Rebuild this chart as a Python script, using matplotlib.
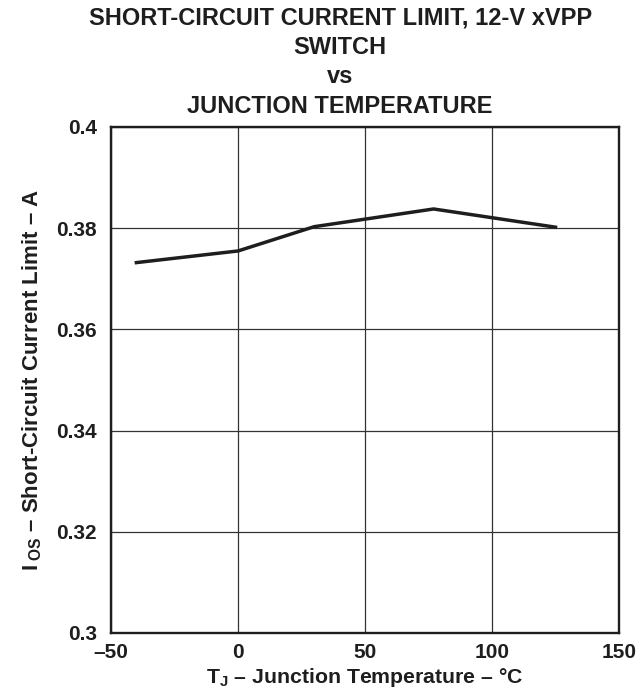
import numpy as np
import matplotlib
matplotlib.use("Agg")
import matplotlib.pyplot as plt

plt.rcParams['font.family'] = ['Liberation Sans', 'DejaVu Sans']
plt.rcParams['font.weight'] = 'bold'
plt.rcParams['mathtext.fontset'] = 'custom'
plt.rcParams['mathtext.rm'] = 'Liberation Sans:bold'
plt.rcParams['mathtext.default'] = 'rm'

# data
temp_c = [-40, 0, 30, 77, 125]
ios_a = [0.3732, 0.3755, 0.3803, 0.3838, 0.3802]

x_ticks = [-50, 0, 50, 100, 150]
x_ticklabels = ['\u201350', '0', '50', '100', '150']
y_ticks = [0.30, 0.32, 0.34, 0.36, 0.38, 0.40]
y_ticklabels = ['0.3', '0.32', '0.34', '0.36', '0.38', '0.4']

title_lines = ['SHORT-CIRCUIT CURRENT LIMIT, 12-V xVPP', 'SWITCH', 'vs',
               'JUNCTION TEMPERATURE']

ink = '#1e1e1e'

fig = plt.figure(figsize=(6.43, 6.91), dpi=100)
# axes box: left 111, right 619, top 127, bottom 633 (pixels)
ax = fig.add_axes([111 / 643, 1 - 633 / 691, 508 / 643, 506 / 691])

ax.plot(temp_c, ios_a, color=ink, lw=2.5, zorder=3)

ax.set_xlim(-50, 150)
ax.set_ylim(0.3, 0.4)
ax.set_xticks(x_ticks)
ax.set_xticklabels(x_ticklabels)
ax.set_yticks(y_ticks)
ax.set_yticklabels(y_ticklabels)
ax.tick_params(length=0, labelsize=15, colors=ink)
ax.tick_params(axis='x', pad=7)
ax.tick_params(axis='y', pad=10)
ax.grid(True, color='#333333', lw=0.9)
for s in ax.spines.values():
    s.set_linewidth(1.7)
    s.set_color(ink)

ax.set_xlabel('T$_{J}$ \u2013 Junction Temperature \u2013 \u00b0C',
              fontsize=15.3, fontweight='bold', labelpad=3, color=ink)
ax.set_ylabel('I$\\,_{OS}$ \u2013 Short-Circuit Current Limit \u2013 A',
              fontsize=16, fontweight='bold', labelpad=9, color=ink)
ax.set_title('\n'.join(title_lines), fontsize=17, fontweight='bold',
             linespacing=1.37, pad=10, color=ink, x=0.451)

fig.savefig('out.png', dpi=100)
